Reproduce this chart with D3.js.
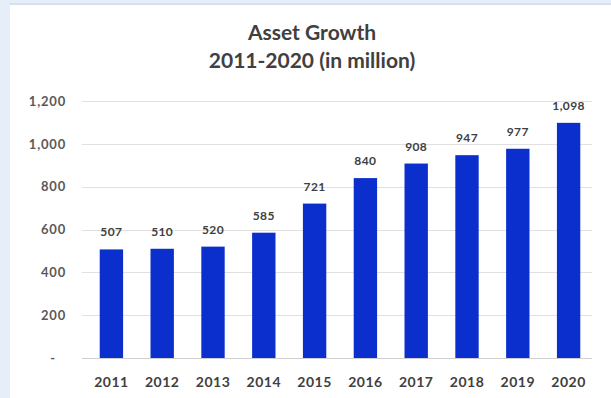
<!DOCTYPE html>
<html>
<head>
<meta charset="utf-8">
<script src="https://cdn.jsdelivr.net/npm/d3@7"></script>
<style>
  html, body { margin: 0; padding: 0; background: #ffffff; }
  svg { display: block; }
</style>
</head>
<body>
<svg id="chart" width="611" height="398"></svg>
<script>
// Asset growth by year, in millions
const years = ["2011", "2012", "2013", "2014", "2015", "2016", "2017", "2018", "2019", "2020"];
const assets = [507, 510, 520, 585, 721, 840, 908, 947, 977, 1098];
const yTicks = [0, 200, 400, 600, 800, 1000, 1200];
const titleLines = ["Asset Growth", "2011-2020 (in million)"];

const W = 611, H = 398;
const svg = d3.select("#chart");
const font = "Lato, 'Open Sans', sans-serif";

// Pale blue surround with the white card on top
svg.append("rect").attr("width", W).attr("height", H).attr("fill", "#e6eff9");
svg.append("rect").attr("x", 10).attr("y", 5).attr("width", W - 10).attr("height", H - 5).attr("fill", "#ffffff");
svg.append("line").attr("x1", 10).attr("x2", W).attr("y1", 4).attr("y2", 4)
  .attr("stroke", "#d3dbe4").attr("stroke-width", 1.5);

const plot = { left: 86, right: 594, top: 101, bottom: 358 };

const x = d3.scaleBand().domain(years).range([plot.left, plot.right]).paddingInner(0.54).paddingOuter(0.27);
const y = d3.scaleLinear().domain([0, 1200]).range([plot.bottom, plot.top]);

// Title
svg.append("g").selectAll("text").data(titleLines).join("text")
  .attr("x", 312).attr("y", (d, i) => 40 + i * 28)
  .attr("text-anchor", "middle")
  .attr("font-family", font).attr("font-weight", 700).attr("font-size", 21)
  .attr("fill", "#404040")
  .text(d => d);

// Gridlines
svg.append("g").selectAll("line").data(yTicks).join("line")
  .attr("x1", 82).attr("x2", 592)
  .attr("y1", d => Math.round(y(d)) + 0.5).attr("y2", d => Math.round(y(d)) + 0.5)
  .attr("stroke", d => d === 0 ? "#cfcfcf" : "#e0e0e0").attr("stroke-width", 1);

// Y axis labels
const yAxis = d3.axisLeft(y).tickValues(yTicks).tickSize(0).tickPadding(0)
  .tickFormat(d => d === 0 ? "-" : d3.format(",")(d));
const gy = svg.append("g").attr("transform", `translate(66,0)`).call(yAxis);
gy.select(".domain").remove();
gy.selectAll("text")
  .attr("font-family", font).attr("font-weight", 700).attr("font-size", 13)
  .attr("letter-spacing", 0.8)
  .attr("fill", "#595959")
  .attr("dx", d => d === 0 ? -10 : 0);

// Bars
svg.append("g").selectAll("rect").data(years).join("rect")
  .attr("x", d => x(d)).attr("width", x.bandwidth())
  .attr("y", (d, i) => y(assets[i])).attr("height", (d, i) => y(0) - y(assets[i]))
  .attr("fill", "#0a2fcc");

// Value labels
svg.append("g").selectAll("text").data(years).join("text")
  .attr("x", d => x(d) + x.bandwidth() / 2)
  .attr("y", (d, i) => y(assets[i]) - 13)
  .attr("text-anchor", "middle")
  .attr("font-family", font).attr("font-weight", 700).attr("font-size", 12)
  .attr("letter-spacing", 0.4)
  .attr("fill", "#404040")
  .text((d, i) => d3.format(",")(assets[i]));

// X axis labels
const xAxis = d3.axisBottom(x).tickSize(0).tickPadding(0);
const gx = svg.append("g").attr("transform", `translate(0,${plot.bottom + 29})`).call(xAxis);
gx.select(".domain").remove();
gx.selectAll("text")
  .attr("dy", 0)
  .attr("font-family", font).attr("font-weight", 700).attr("font-size", 14)
  .attr("letter-spacing", 0.5)
  .attr("fill", "#404040");
</script>
</body>
</html>
